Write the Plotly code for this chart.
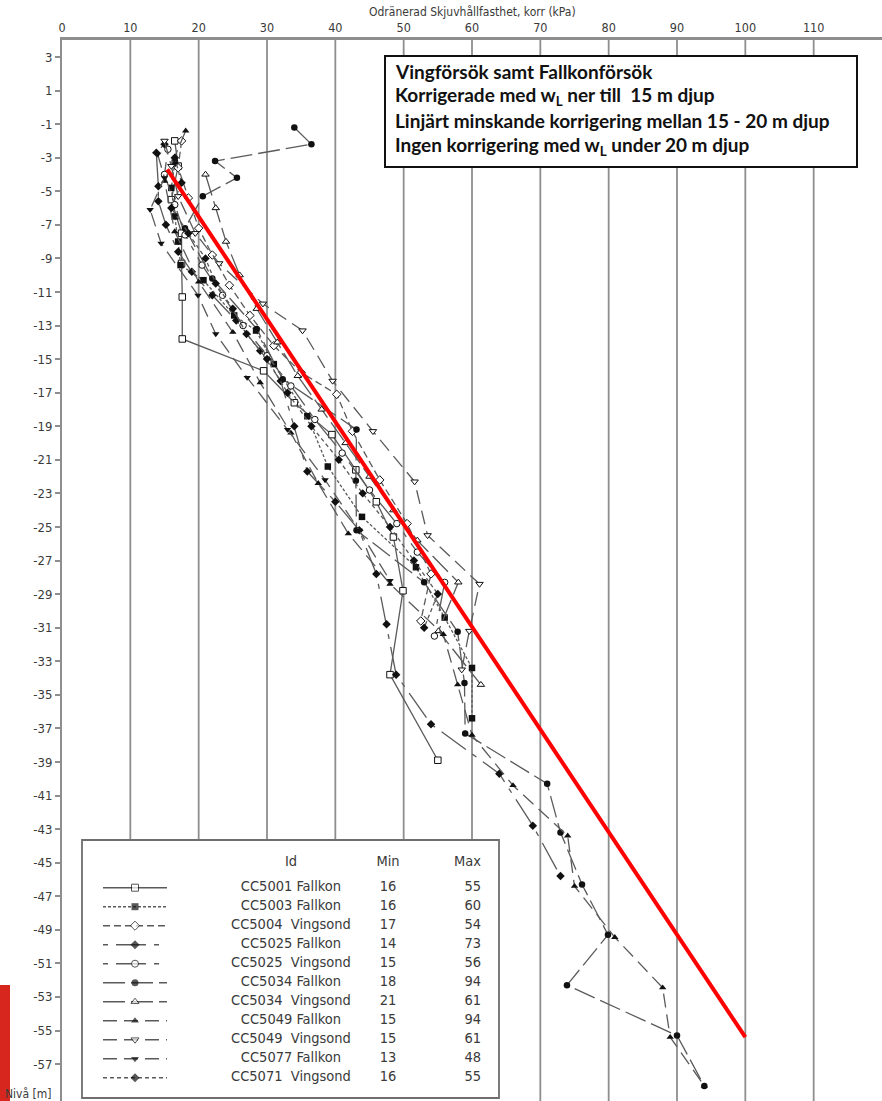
import plotly.graph_objects as go

# ---------------- data ----------------
series_ids = ["CC5001 Fallkon", "CC5003 Fallkon", "CC5004\u00a0 Vingsond", "CC5025 Fallkon",
              "CC5025\u00a0 Vingsond", "CC5034 Fallkon", "CC5034\u00a0 Vingsond", "CC5049 Fallkon",
              "CC5049\u00a0 Vingsond", "CC5077 Fallkon", "CC5071\u00a0 Vingsond"]
series_min = [16, 16, 17, 14, 15, 18, 21, 15, 15, 13, 16]
series_max = [55, 60, 54, 73, 56, 94, 61, 94, 61, 48, 55]

cc5001_f_niva = [-2.0, -3.5, -5.5, -7.5, -9.3, -11.3, -13.8, -15.7, -17.6, -19.5, -21.6, -23.5, -25.6, -28.8, -33.8, -38.9]
cc5001_f_kpa = [16.5, 17.0, 16.0, 17.5, 17.5, 17.6, 17.6, 29.5, 34.0, 39.5, 43.0, 46.0, 48.5, 49.9, 48.0, 55.0]

cc5003_f_niva = [-3.3, -4.8, -6.5, -8.0, -9.4, -10.3, -12.4, -13.3, -15.3, -18.4, -21.4, -24.4, -27.4, -30.4, -33.4, -36.4]
cc5003_f_kpa = [16.5, 16.0, 16.5, 17.0, 17.35, 20.7, 25.2, 28.4, 31.0, 35.9, 38.9, 43.9, 51.8, 56.0, 60.0, 60.0]

cc5004_v_niva = [-2.0, -3.6, -5.4, -7.2, -8.8, -10.6, -12.4, -14.2, -15.8, -17.1, -19.3, -22.2, -24.8, -27.8, -30.6]
cc5004_v_kpa = [17.5, 17.0, 18.5, 20.0, 22.0, 24.5, 27.5, 31.0, 35.0, 40.2, 42.5, 46.5, 50.5, 54.0, 52.5]

cc5025_f_niva = [-2.2, -2.7, -4.7, -5.6, -7.0, -8.6, -9.8, -11.2, -12.7, -14.5, -16.3, -19.0, -21.7, -23.5,
                 -25.2, -27.8, -30.8, -33.8, -36.75, -39.7, -42.8, -45.8]
cc5025_f_kpa = [15.0, 13.8, 14.1, 14.1, 15.2, 17.0, 19.0, 22.0, 25.5, 29.0, 32.0, 34.0, 35.9, 40.0,
                43.5, 46.0, 47.5, 48.9, 54.0, 64.0, 68.9, 72.95]

cc5025_v_niva = [-2.5, -4.0, -5.8, -7.6, -9.4, -11.2, -13.0, -14.8, -16.6, -18.6, -20.6, -22.8, -24.8, -26.5, -28.3, -31.5]
cc5025_v_kpa = [15.5, 15.0, 16.5, 18.0, 20.5, 23.5, 26.5, 30.0, 33.5, 37.0, 41.0, 45.0, 49.0, 52.0, 56.0, 54.5]

cc5034_f_niva = [-1.2, -2.2, -3.2, -4.2, -5.3, -7.2, -10.2, -13.2, -16.2, -19.2, -22.25, -25.2, -28.3, -31.25,
                 -34.3, -37.3, -40.3, -43.2, -46.3, -49.3, -52.3, -55.3, -58.3]
cc5034_f_kpa = [34.0, 36.5, 22.4, 25.6, 20.6, 18.0, 22.0, 28.5, 32.3, 43.1, 43.0, 43.1, 53.0, 57.9,
                58.9, 59.0, 71.0, 72.95, 76.1, 79.9, 73.9, 90.0, 94.0]

cc5034_v_niva = [-4.0, -6.0, -8.0, -10.0, -12.0, -14.0, -16.0, -18.0, -20.0, -22.0, -24.0, -25.8, -28.3, -31.2, -34.4]
cc5034_v_kpa = [21.0, 22.5, 24.0, 26.0, 28.5, 31.5, 34.5, 38.0, 41.5, 45.0, 48.5, 52.0, 58.0, 55.1, 61.3]

cc5049_f_niva = [-1.4, -4.4, -7.4, -10.4, -13.4, -16.4, -19.4, -22.4, -25.4, -28.4, -31.4, -34.4, -37.4,
                 -40.4, -43.4, -46.4, -49.45, -52.45, -55.4, -58.3]
cc5049_f_kpa = [18.1, 15.0, 16.5, 20.0, 25.0, 29.0, 33.5, 37.5, 41.9, 48.0, 55.8, 57.9, 60.0,
                66.0, 74.0, 75.0, 80.9, 87.9, 89.0, 94.0]

cc5049_v_niva = [-2.0, -3.5, -5.3, -7.5, -9.3, -11.7, -13.3, -16.3, -19.3, -22.3, -25.5, -28.4, -31.2, -33.5]
cc5049_v_kpa = [15.0, 16.0, 17.0, 19.5, 23.0, 29.4, 35.2, 39.6, 45.5, 51.6, 53.5, 61.1, 59.6, 58.5]

cc5077_f_niva = [-2.8, -4.2, -6.1, -8.1, -11.2, -13.5, -16.1, -19.2, -22.2, -25.2, -28.2]
cc5077_f_kpa = [14.0, 15.0, 12.9, 14.5, 19.9, 22.5, 27.1, 33.0, 38.5, 43.5, 48.0]

cc5071_v_niva = [-3.0, -4.5, -6.0, -7.5, -9.0, -10.5, -12.0, -13.5, -15.0, -17.0, -19.0, -21.0, -23.0,
                 -25.0, -27.0, -29.0, -31.0]
cc5071_v_kpa = [16.5, 17.5, 16.0, 18.5, 21.0, 22.5, 25.0, 27.0, 30.0, 33.0, 36.5, 40.5, 44.0,
                48.0, 51.5, 55.0, 53.0]

trend_kpa = [15.4, 100.0]
trend_niva = [-3.7, -55.4]

x_ticks = list(range(0, 130, 10))
y_ticks = list(range(3, -58, -2))
header_labels = ["Id", "Min", "Max"]
box_lines = ["Vingförsök samt Fallkonförsök",
             "Korrigerade med w<sub>L</sub> ner till  15 m djup",
             "Linjärt minskande korrigering mellan 15 - 20 m djup",
             "Ingen korrigering med w<sub>L</sub> under 20 m djup"]

# ---------------- styles ----------------
series_x = [cc5001_f_kpa, cc5003_f_kpa, cc5004_v_kpa, cc5025_f_kpa, cc5025_v_kpa, cc5034_f_kpa,
            cc5034_v_kpa, cc5049_f_kpa, cc5049_v_kpa, cc5077_f_kpa, cc5071_v_kpa]
series_y = [cc5001_f_niva, cc5003_f_niva, cc5004_v_niva, cc5025_f_niva, cc5025_v_niva, cc5034_f_niva,
            cc5034_v_niva, cc5049_f_niva, cc5049_v_niva, cc5077_f_niva, cc5071_v_niva]
symbols = ["square", "square", "diamond", "diamond", "circle", "circle",
           "triangle-up", "triangle-up", "triangle-down", "triangle-down", "diamond-cross"]
filled = [False, True, False, True, False, True, False, True, False, True, True]
dashes = ["solid", "3px,2px", "7px,4px", "5px,8px,30px,8px", "5px,8px,30px,8px", "22px,6px",
          "22px,6px", "14px,7px", "14px,7px", "14px,7px", "4px,3px"]

LINE_C = "#5a5a5a"
GRID_C = "#8e8e8e"
TXT_C = "#3a3a3a"
FONT = "Liberation Sans Narrow, DejaVu Sans Condensed, Roboto Condensed, Arial Narrow, sans-serif"

W, H = 882, 1101
ML, MT = 62, 40
PW, PH = W - ML, H - MT
Y_TOP, Y_BOT = 4.01, -59.2
X_MAX = 120


def px_to_paper_x(px):
    return (px - ML) / PW


def px_to_paper_y(py):
    return (H - py) / PH


fig = go.Figure()

# data series
for i in range(len(series_ids)):
    fig.add_trace(go.Scatter(
        x=series_x[i], y=series_y[i], mode="lines+markers", showlegend=False,
        line=dict(color=LINE_C, width=1.3, dash=dashes[i]),
        marker=dict(symbol=symbols[i], size=6.5,
                    color="#111111" if filled[i] else "white",
                    line=dict(color="#111111", width=1 if not filled[i] else 0)),
    ))

# red trend line
fig.add_trace(go.Scatter(x=trend_kpa, y=trend_niva, mode="lines", showlegend=False,
                         line=dict(color="#ff0000", width=4)))

# ---------------- legend table (own axes) ----------------
leg_px_x0, leg_px_x1, leg_px_y0, leg_px_y1 = 82, 499, 840, 1098
samp_px0, samp_px_len = 103, 64
row_px0, row_px_step = 887.7, 19.0
x2_range = [(leg_px_x0 - samp_px0) / samp_px_len, (leg_px_x1 - samp_px0) / samp_px_len]
y2_range = [(leg_px_y1 - row_px0) / row_px_step, (leg_px_y0 - row_px0) / row_px_step]
id_col = (291 - samp_px0) / samp_px_len
min_col = (388 - samp_px0) / samp_px_len
max_col = (481 - samp_px0) / samp_px_len
head_row = (862.7 - row_px0) / row_px_step

for i in range(len(series_ids)):
    fig.add_trace(go.Scatter(
        x=[0, 0.5, 1], y=[i, i, i], xaxis="x2", yaxis="y2", mode="lines+markers", showlegend=False,
        line=dict(color=LINE_C, width=1.5, dash=dashes[i]),
        marker=dict(symbol=symbols[i], size=[0, 7, 0],
                    color="#111111" if filled[i] else "white",
                    line=dict(color="#111111", width=1 if not filled[i] else 0)),
        hoverinfo="skip",
    ))

rows = list(range(len(series_ids)))
tfont = dict(family=FONT, size=14.5, color=TXT_C)
fig.add_trace(go.Scatter(x=[id_col] * len(rows), y=rows, text=series_ids, mode="text",
                         textposition="middle center", textfont=tfont, xaxis="x2", yaxis="y2",
                         showlegend=False, hoverinfo="skip"))
fig.add_trace(go.Scatter(x=[min_col] * len(rows), y=rows, text=[str(v) for v in series_min], mode="text",
                         textposition="middle center", textfont=tfont, xaxis="x2", yaxis="y2",
                         showlegend=False, hoverinfo="skip"))
fig.add_trace(go.Scatter(x=[max_col] * len(rows), y=rows, text=[str(v) for v in series_max], mode="text",
                         textposition="middle left", textfont=tfont, xaxis="x2", yaxis="y2",
                         showlegend=False, hoverinfo="skip"))
fig.add_trace(go.Scatter(x=[id_col, min_col], y=[head_row, head_row], text=header_labels[:2], mode="text",
                         textposition="middle center", textfont=tfont, xaxis="x2", yaxis="y2",
                         showlegend=False, hoverinfo="skip"))
fig.add_trace(go.Scatter(x=[max_col], y=[head_row], text=header_labels[2:], mode="text",
                         textposition="middle left", textfont=tfont, xaxis="x2", yaxis="y2",
                         showlegend=False, hoverinfo="skip"))

# ---------------- shapes ----------------
shapes = []
leg_top_val = Y_TOP - (leg_px_y0 - MT) / PH * (Y_TOP - Y_BOT)
leg_right_val = (leg_px_x1 - ML) / PW * X_MAX
for v in x_ticks[1:-1]:
    y0 = leg_top_val if v < leg_right_val else Y_BOT
    shapes.append(dict(type="line", xref="x", yref="y", x0=v, x1=v, y0=y0, y1=Y_TOP,
                       line=dict(color=GRID_C, width=1.8), layer="below"))
# legend frame
shapes.append(dict(type="rect", xref="paper", yref="paper",
                   x0=px_to_paper_x(leg_px_x0), x1=px_to_paper_x(leg_px_x1),
                   y0=px_to_paper_y(leg_px_y1), y1=px_to_paper_y(leg_px_y0),
                   line=dict(color="#6e6e6e", width=1.8), fillcolor="rgba(0,0,0,0)", layer="above"))
# note box
shapes.append(dict(type="rect", xref="paper", yref="paper",
                   x0=px_to_paper_x(385), x1=px_to_paper_x(857),
                   y0=px_to_paper_y(167), y1=px_to_paper_y(56),
                   line=dict(color="#111111", width=2), fillcolor="white", layer="above"))
# red bar at bottom-left edge
shapes.append(dict(type="rect", xref="paper", yref="paper",
                   x0=px_to_paper_x(0), x1=px_to_paper_x(10),
                   y0=px_to_paper_y(1101), y1=px_to_paper_y(985),
                   line=dict(width=0), fillcolor="#d7261e", layer="above"))

# ---------------- annotations ----------------
annotations = []
row_centers = [71.0, 96.0, 121.0, 146.5]
for t, yc in zip(box_lines, row_centers):
    annotations.append(dict(text=t, xref="paper", yref="paper", x=px_to_paper_x(393), y=px_to_paper_y(yc),
                            xanchor="left", yanchor="middle", showarrow=False, align="left",
                            font=dict(family="Lato, Open Sans, sans-serif", size=19, color="#111111",
                                      weight="bold")))
annotations.append(dict(text="Odränerad Skjuvhållfasthet, korr (kPa)", xref="paper", yref="paper",
                        x=px_to_paper_x(472), y=px_to_paper_y(12), xanchor="center", yanchor="middle",
                        showarrow=False, font=dict(family=FONT, size=12, color=TXT_C)))
annotations.append(dict(text="Nivå [m]", xref="paper", yref="paper",
                        x=px_to_paper_x(53), y=px_to_paper_y(1094), xanchor="right", yanchor="middle",
                        showarrow=False, font=dict(family=FONT, size=12, color=TXT_C)))

fig.update_layout(
    width=W, height=H, margin=dict(l=ML, r=0, t=MT, b=0, pad=0),
    paper_bgcolor="white", plot_bgcolor="white", showlegend=False,
    xaxis=dict(domain=[0, 1], range=[0, X_MAX], side="top", tickvals=x_ticks,
               ticktext=[str(v) for v in x_ticks], ticks="", showgrid=False, zeroline=False,
               showline=True, linecolor=GRID_C, linewidth=2.5, automargin=False,
               tickfont=dict(family=FONT, size=12.5, color=TXT_C), ticklabelstandoff=0),
    yaxis=dict(domain=[0, 1], range=[Y_BOT, Y_TOP], tickvals=y_ticks,
               ticktext=[str(v) for v in y_ticks], ticks="outside", ticklen=5, tickcolor=GRID_C,
               tickwidth=1.5, showgrid=False, zeroline=False, showline=True, linecolor=GRID_C,
               linewidth=2, automargin=False, tickfont=dict(family=FONT, size=13, color=TXT_C)),
    xaxis2=dict(domain=[px_to_paper_x(leg_px_x0), px_to_paper_x(leg_px_x1)], range=x2_range,
                visible=False, anchor="y2", fixedrange=True),
    yaxis2=dict(domain=[px_to_paper_y(leg_px_y1), px_to_paper_y(leg_px_y0)], range=y2_range,
                visible=False, anchor="x2", fixedrange=True),
    shapes=shapes, annotations=annotations,
)

fig.write_html("out.html", config={"displayModeBar": False},
               post_script="document.body.style.margin='0';document.body.style.overflow='hidden';")
